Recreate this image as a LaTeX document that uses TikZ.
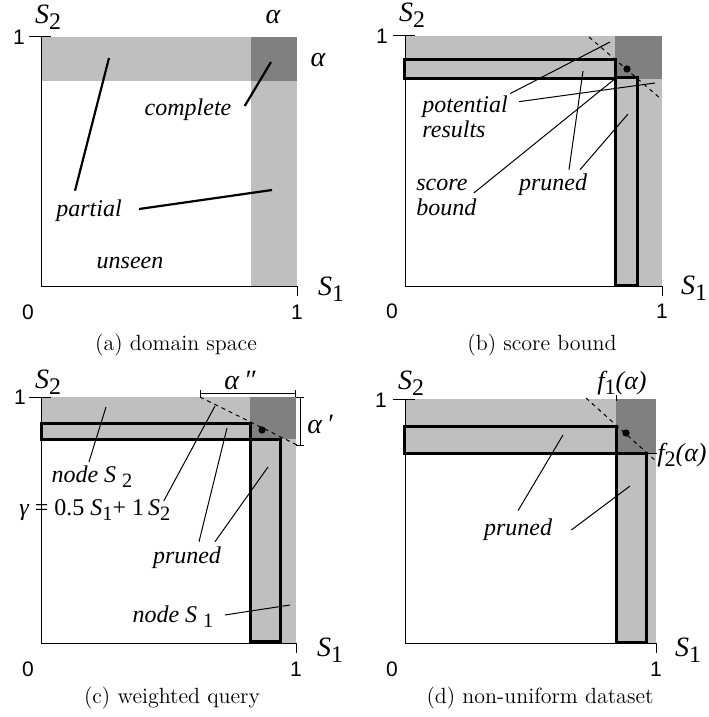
\documentclass[tikz,border=0pt]{standalone}
\usepackage{fontspec}
\newfontfamily\tms{Liberation Serif}
\newfontfamily\hlv{Liberation Sans}
\usetikzlibrary{positioning}
\definecolor{lgray}{gray}{0.75}
\definecolor{dgray}{gray}{0.5}
\newcommand\dn[1]{\raisebox{-0.45ex}{\scalebox{0.85}{\upshape #1}}}
\begin{document}
\begin{tikzpicture}[
    x=0.5pt, y=-0.5pt,
    every node/.style={inner sep=1pt},
    axis/.style={line width=0.5pt},
    cell/.style={draw, line width=1.5pt, fill=lgray},
    lead/.style={line width=0.5pt},
    boldlead/.style={line width=1.1pt},
    bound/.style={line width=0.5pt, dash pattern=on 2pt off 2pt},
    spot/.style={circle, fill=black, inner sep=0pt, minimum size=3.6pt},
    lbl/.style={font=\tms\itshape\fontsize{12}{12.5}\selectfont, align=left},
    axlbl/.style={font=\tms\itshape\fontsize{14}{16}\selectfont},
    num/.style={font=\hlv\fontsize{10.5}{12}\selectfont},
    capt/.style={font=\fontsize{11}{13}\selectfont, anchor=base}
]
\fill[white] (0,0) rectangle (706,717);

\fill[lgray] (41,37) rectangle (297,81);
\fill[lgray] (251,37) rectangle (297,286);
\fill[dgray] (251,37) rectangle (297,81);
\draw[axis] (41,37) -- (41,286) -- (297,286);
\draw[axis] (29,37) -- (51,37);
\draw[axis] (297,286) -- (297,296);
\node[num] (a1y) at (19,37) {1};
\node[num] (a0) at (28,312) {0};
\node[num] (a1x) at (297,312) {1};
\node[axlbl] (aS2) at (48,17) {S\dn{2}};
\node[axlbl] (aS1) at (331,289) {S\dn{1}};
\node[axlbl] (aal1) at (273,17) {α};
\node[axlbl] (aal2) at (318,60) {α};
\node[lbl] (complete) at (188,110) {complete};
\node[lbl] (partial) at (89,211) {partial};
\node[lbl] (unseen) at (130,263) {unseen};
\coordinate (cp1) at (271,62);
\coordinate (pa1) at (109,58);
\coordinate (pa2) at (272,190);
\draw[boldlead] ([shift={(11,-4)}]complete.east) -- (cp1);
\draw[boldlead] ([shift={(-14,-7)}]partial.north) -- (pa1);
\draw[boldlead] ([shift={(15,-2)}]partial.east) -- (pa2);
\node[capt] (capa) at (176,350) {(a) domain space};

\fill[lgray] (405,36) rectangle (662,79);
\fill[lgray] (615,36) rectangle (662,286);
\fill[dgray] (615,36) rectangle (662,79);
\draw[axis] (405,36) -- (405,286) -- (662,286);
\draw[axis] (393,36) -- (415,36);
\draw[axis] (662,286) -- (662,296);
\draw[cell] (404,60) rectangle (615,79);
\draw[cell] (615,78) rectangle (637,285);
\draw[bound] (589,37) -- (661,99);
\node[spot] (bdot) at (627,69) {};
\node[num] (b1y) at (382,36) {1};
\node[num] (b0) at (392,311) {0};
\node[num] (b1x) at (662,311) {1};
\node[axlbl] (bS2) at (412,15) {S\dn{2}};
\node[axlbl] (bS1) at (694,288) {S\dn{1}};
\node[lbl, anchor=west] (potential) at (420,117) {potential\\results};
\node[lbl, anchor=west] (score) at (414,197) {score\\bound};
\node[lbl] (bpruned) at (553,185) {pruned};
\coordinate (bp1) at (610,42);
\coordinate (bp2) at (655,83);
\coordinate (bs1) at (616,78);
\coordinate (bq1) at (583,71);
\coordinate (bq2) at (628,114);
\draw[lead] (potential.north east) -- (bp1);
\draw[lead] ([shift={(9,8)}]potential.north east) -- (bp2);
\draw[lead] ([shift={(-5,-4)}]score.east) -- (bs1);
\draw[lead] ([shift={(16,-2)}]bpruned.north) -- (bq1);
\draw[lead] ([shift={(27,-2)}]bpruned.north) -- (bq2);
\node[capt] (capb) at (542,350) {(b) score bound};

\fill[lgray] (41,397) rectangle (296,439);
\fill[lgray] (250,397) rectangle (296,643);
\fill[dgray] (250,397) rectangle (296,439);
\draw[axis] (41,397) -- (41,643) -- (296,643);
\draw[axis] (29,397) -- (51,397);
\draw[axis] (296,643) -- (296,653);
\draw[cell] (41,423) rectangle (250,439);
\draw[cell] (250,439) rectangle (280,641);
\draw[bound] (200,397) -- (297,445);
\node[spot] (cdot) at (262,430) {};
\draw[axis] (200,390) -- (200,397);
\draw[axis] (295,390) -- (295,397);
\draw[axis] (200,393) -- (295,393);
\draw[axis] (296,397) -- (304,397);
\draw[axis] (296,445) -- (304,445);
\draw[axis] (300,397) -- (300,445);
\node[axlbl] (cal2) at (240,380) {α\,″};
\node[axlbl] (cal1) at (320,424) {α\,′};
\node[num] (c1y) at (20,397) {1};
\node[num] (c0) at (28,669) {0};
\node[num] (c1x) at (296,669) {1};
\node[axlbl] (cS2) at (48,382) {S\dn{2}};
\node[axlbl] (cS1) at (330,650) {S\dn{1}};
\node[lbl] (nodeS2) at (92,477) {node S \dn{2}};
\node[lbl, font=\tms\fontsize{12}{12.5}\selectfont, anchor=west] (gamma) at (17,510)
    {{\itshape γ} = 0.5 {\itshape S}\dn{1}+ 1\,{\itshape S}\dn{2}};
\node[lbl] (cpruned) at (187,558) {pruned};
\node[lbl] (nodeS1) at (173,617) {node S \dn{1}};
\coordinate (cn2) at (106,407);
\coordinate (cg1) at (215,406);
\coordinate (cq1) at (227,428);
\coordinate (cq2) at (268,467);
\coordinate (cn1) at (290,605);
\draw[lead] ([shift={(-3,-2)}]nodeS2.north) -- (cn2);
\draw[lead] ([shift={(-9,-9)}]gamma.east) -- (cg1);
\draw[lead] ([shift={(12,-3)}]cpruned.north) -- (cq1);
\draw[lead] ([shift={(28,-3)}]cpruned.north) -- (cq2);
\draw[lead] ([shift={(9,-2)}]nodeS1.east) -- (cn1);
\node[capt] (capc) at (172,703) {(c) weighted query};

\fill[lgray] (405,399) rectangle (656,453);
\fill[lgray] (616,399) rectangle (656,643);
\fill[dgray] (616,399) rectangle (656,453);
\draw[axis] (405,399) -- (405,643) -- (656,643);
\draw[axis] (393,399) -- (415,399);
\draw[axis] (656,643) -- (656,653);
\draw[cell] (404,426) rectangle (616,453);
\draw[cell] (616,453) rectangle (646,642);
\draw[bound] (586,398) -- (657,462);
\node[spot] (ddot) at (626,433) {};
\draw[axis] (616,395) -- (616,401);
\draw[axis] (646,453) -- (657,453);
\node[axlbl, font=\tms\itshape\fontsize{13}{15}\selectfont] (f1) at (622,383) {f\dn{1}(α)};
\node[axlbl, font=\tms\itshape\fontsize{13}{15}\selectfont, anchor=west] (f2) at (655,455) {f\dn{2}(α)};
\node[num] (d1y) at (381,400) {1};
\node[num] (d0) at (392,669) {0};
\node[num] (d1x) at (656,669) {1};
\node[axlbl] (dS2) at (411,383) {S\dn{2}};
\node[axlbl] (dS1) at (688,650) {S\dn{1}};
\node[lbl] (dpruned) at (518,530) {pruned};
\coordinate (dq1) at (563,435);
\coordinate (dq2) at (630,486);
\draw[lead] ([shift={(0,-6)}]dpruned.north) -- (dq1);
\draw[lead] ([shift={(17,0)}]dpruned.east) -- (dq2);
\node[capt] (capd) at (540,703) {(d) non-uniform dataset};
\end{tikzpicture}
\end{document}
